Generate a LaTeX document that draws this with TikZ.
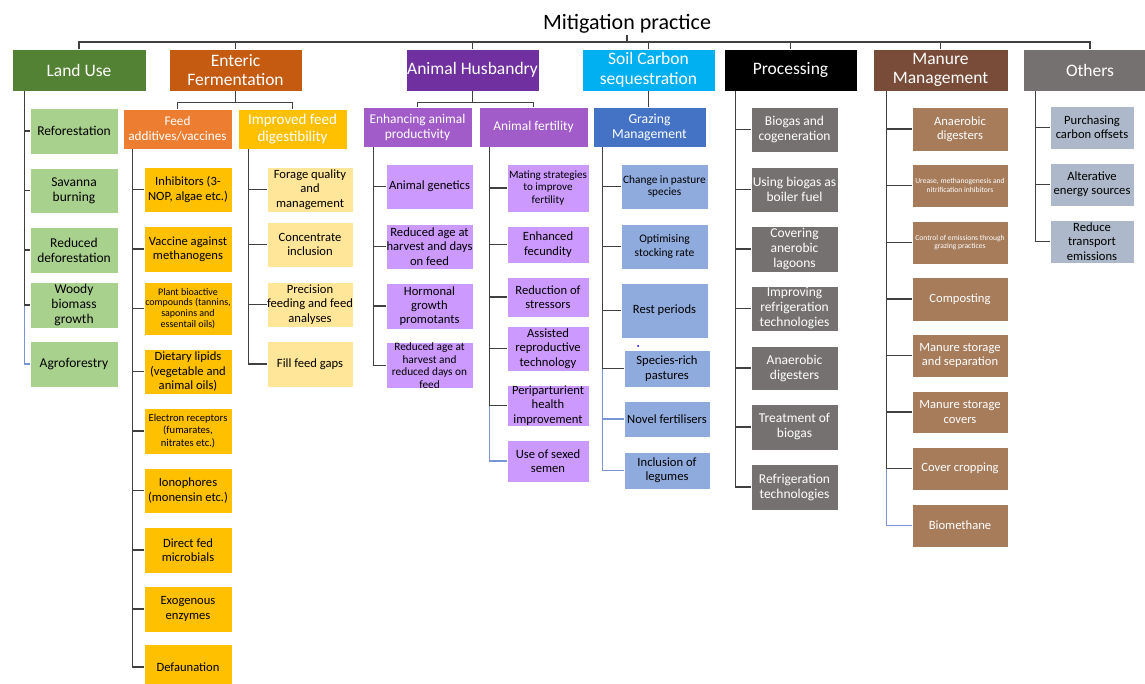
\documentclass[tikz,border=0pt]{standalone}
\usepackage{fontspec}
\setmainfont{Carlito}
\usetikzlibrary{calc}
\definecolor{cLU}{HTML}{548235}
\definecolor{cEF}{HTML}{C55A11}
\definecolor{cAH}{HTML}{7030A0}
\definecolor{cSC}{HTML}{00B0F0}
\definecolor{cMM}{RGB}{120,76,56}
\definecolor{cOT}{HTML}{767171}
\definecolor{cFA}{HTML}{ED7D31}
\definecolor{cIF}{HTML}{FFC000}
\definecolor{cAP}{RGB}{161,92,201}
\definecolor{cGM}{HTML}{4472C4}
\definecolor{iLU}{HTML}{A9D18E}
\definecolor{iFA}{HTML}{FFC000}
\definecolor{iIF}{HTML}{FFE699}
\definecolor{iAP}{RGB}{204,153,255}
\definecolor{iGM}{HTML}{8FAADC}
\definecolor{iPR}{HTML}{767171}
\definecolor{iMM}{RGB}{166,124,91}
\definecolor{iOT}{HTML}{ADB9CA}
\definecolor{lineblue}{RGB}{120,150,215}
\newcommand\mybox[7]{\node[#2, minimum width={#5-#3}, minimum height={#6-#4}] (#1) at ({(#3+#5)/2},{(#4+#6)/2}) {#7};}
\begin{document}
\begin{tikzpicture}[x=1pt,y=-1pt,
  base/.style={rectangle, draw=white, line width=0.6pt, inner sep=0pt, align=center, text=black},
  top/.style={base, text=white, font=\fontsize{17.5}{19.5}\selectfont},
  mid/.style={base, text=white, font=\fontsize{13.4}{15}\selectfont},
  itm/.style={base, font=\fontsize{12.6}{14.3}\selectfont},
  itmL/.style={base, font=\fontsize{13.5}{15}\selectfont},
  conn/.style={draw=black!75, line width=1.1pt},
  bconn/.style={draw=lineblue, line width=1.1pt}]
\useasboundingbox (0,0) rectangle (1145,684);
\clip (0,0) rectangle (1145,684);
\fill[white] (0,0) rectangle (1145,684);

% title
\node[font=\fontsize{22}{26}\selectfont, anchor=base, inner sep=1pt] (title) at (627,30) {Mitigation practice};

% top level
\mybox{lu}{top, fill=cLU}{12}{49}{146}{91}{Land Use}
\mybox{ef}{top, fill=cEF}{169}{49}{302}{91}{Enteric\\Fermentation}
\mybox{ah}{top, fill=cAH}{406}{49}{539}{91}{Animal Husbandry}
\mybox{sc}{top, fill=cSC}{582}{49}{715}{91}{Soil Carbon\\sequestration}
\mybox{pr}{top, fill=black}{724}{49}{857}{91}{Processing}
\mybox{mm}{top, fill=cMM}{873}{49}{1008}{91}{Manure\\Management}
\mybox{ot}{top, fill=cOT}{1023}{49}{1157}{91}{Others}

% second level
\mybox{fa}{mid, fill=cFA, font=\fontsize{13.2}{15}\selectfont}{123}{109}{232}{149}{Feed\\additives/vaccines}
\mybox{ifd}{mid, fill=cIF, font=\fontsize{15}{16.5}\selectfont}{238}{109}{347}{149}{Improved feed\\digestibility}
\mybox{eap}{mid, fill=cAP}{363}{107}{472}{147}{Enhancing animal\\productivity}
\mybox{afe}{mid, fill=cAP}{479}{107}{588}{147}{Animal fertility}
\mybox{gm}{mid, fill=cGM, font=\fontsize{13.7}{15}\selectfont}{593}{107}{706}{147}{Grazing\\Management}

% Land use items
\mybox{lu1}{itmL, fill=iLU}{30}{108}{118}{154}{Reforestation}
\mybox{lu2}{itmL, fill=iLU}{30}{168}{118}{213}{Savanna\\burning}
\mybox{lu3}{itmL, fill=iLU}{30}{227}{118}{273}{Reduced\\deforestation}
\mybox{lu4}{itmL, fill=iLU}{30}{282}{118}{328}{Woody\\biomass\\growth}
\mybox{lu5}{itmL, fill=iLU}{30}{341}{118}{387}{Agroforestry}

% Feed additives items
\mybox{fa1}{itm, fill=iFA}{144}{167}{232}{212}{Inhibitors (3-\\NOP, algae etc.)}
\mybox{fa2}{itm, fill=iFA}{144}{226}{232}{272}{Vaccine against\\methanogens}
\mybox{fa3}{itm, fill=iFA, font=\fontsize{10}{10.8}\selectfont}{144}{282}{232}{335}{Plant bioactive\\compounds (tannins,\\saponins and\\essentail oils)}
\mybox{fa4}{itm, fill=iFA}{144}{349}{232}{394}{Dietary lipids\\(vegetable and\\animal oils)}
\mybox{fa5}{itm, fill=iFA, font=\fontsize{10.6}{12.3}\selectfont}{144}{408}{232}{454}{Electron receptors\\(fumarates,\\nitrates etc.)}
\mybox{fa6}{itm, fill=iFA}{144}{468}{232}{513}{Ionophores\\(monensin etc.)}
\mybox{fa7}{itm, fill=iFA}{144}{527}{232}{573}{Direct fed\\microbials}
\mybox{fa8}{itm, fill=iFA}{144}{586}{232}{632}{Exogenous\\enzymes}
\mybox{fa9}{itm, fill=iFA}{144}{644}{232}{690}{Defaunation}

% Improved feed items
\mybox{if1}{itm, fill=iIF}{267}{167}{353}{212}{Forage quality\\and\\management}
\mybox{if2}{itm, fill=iIF}{267}{222}{353}{267}{Concentrate\\inclusion}
\mybox{if3}{itm, fill=iIF}{267}{282}{353}{327}{Precision\\feeding and feed\\analyses}
\mybox{if4}{itm, fill=iIF}{267}{341}{353}{387}{Fill feed gaps}

% Enhancing items
\mybox{ep1}{itm, fill=iAP}{386}{164}{473}{209}{Animal genetics}
\mybox{ep2}{itm, fill=iAP}{386}{224}{473}{269}{Reduced age at\\harvest and days\\on feed}
\mybox{ep3}{itm, fill=iAP}{386}{283}{473}{329}{Hormonal\\growth\\promotants}
\mybox{ep4}{itm, fill=iAP, font=\fontsize{11.3}{12.6}\selectfont}{386}{343}{473}{388}{Reduced age at\\harvest and\\reduced days on\\feed}

% Animal fertility items
\mybox{af1}{itm, fill=iAP, font=\fontsize{11.1}{12.3}\selectfont}{507}{164}{589}{212}{Mating strategies\\to improve\\fertility}
\mybox{af2}{itm, fill=iAP}{507}{226}{589}{263}{Enhanced\\fecundity}
\mybox{af3}{itm, fill=iAP}{507}{277}{589}{317}{Reduction of\\stressors}
\mybox{af4}{itm, fill=iAP}{507}{326}{589}{371}{Assisted\\reproductive\\technology}
\mybox{af5}{itm, fill=iAP}{507}{385}{589}{426}{Periparturient\\health\\improvement}
\mybox{af6}{itm, fill=iAP}{507}{440}{589}{482}{Use of sexed\\semen}

% Grazing items
\mybox{gm1}{itm, fill=iGM, font=\fontsize{11.3}{12.7}\selectfont}{621}{164}{708}{209}{Change in pasture\\species}
\mybox{gm2}{itm, fill=iGM, font=\fontsize{11.5}{13.3}\selectfont}{621}{224}{708}{269}{Optimising\\stocking rate}
\mybox{gm3}{itm, fill=iGM}{621}{283}{708}{338}{Rest periods}
\mybox{gm4}{itm, fill=iGM}{624}{350}{710}{387}{Species-rich\\pastures}
\mybox{gm5}{itm, fill=iGM}{624}{401}{710}{437}{Novel fertilisers}
\mybox{gm6}{itm, fill=iGM}{624}{452}{710}{489}{Inclusion of\\legumes}
\fill[blue] (638,346) circle (1);

% Processing items
\mybox{pr1}{itmL, fill=iPR, text=white}{751}{107}{838}{152}{Biogas and\\cogeneration}
\mybox{pr2}{itmL, fill=iPR, text=white}{751}{167}{838}{212}{Using biogas as\\boiler fuel}
\mybox{pr3}{itmL, fill=iPR, text=white}{751}{226}{838}{272}{Covering\\anerobic\\lagoons}
\mybox{pr4}{itmL, fill=iPR, text=white}{751}{286}{838}{331}{Improving\\refrigeration\\technologies}
\mybox{pr5}{itmL, fill=iPR, text=white}{751}{346}{838}{390}{Anaerobic\\digesters}
\mybox{pr6}{itmL, fill=iPR, text=white}{751}{404}{838}{450}{Treatment of\\biogas}
\mybox{pr7}{itmL, fill=iPR, text=white}{751}{464}{838}{510}{Refrigeration\\technologies}

% Manure items
\mybox{mm1}{itm, fill=iMM, text=white}{912}{107}{1008}{151}{Anaerobic\\digesters}
\mybox{mm2}{itm, fill=iMM, text=white, font=\fontsize{7.6}{8.7}\selectfont}{912}{164}{1008}{207}{Urease, methanogenesis and\\nitrification inhibitors}
\mybox{mm3}{itm, fill=iMM, text=white, font=\fontsize{7.6}{8.7}\selectfont}{912}{221}{1008}{264}{Control of emissions through\\grazing practices}
\mybox{mm4}{itm, fill=iMM, text=white}{912}{277}{1008}{321}{Composting}
\mybox{mm5}{itm, fill=iMM, text=white}{912}{334}{1008}{377}{Manure storage\\and separation}
\mybox{mm6}{itm, fill=iMM, text=white}{912}{391}{1008}{433}{Manure storage\\covers}
\mybox{mm7}{itm, fill=iMM, text=white}{912}{447}{1008}{490}{Cover cropping}
\mybox{mm8}{itm, fill=iMM, text=white}{912}{504}{1008}{547}{Biomethane}

% Others items
\mybox{ot1}{itm, fill=iOT}{1050}{106}{1134}{149}{Purchasing\\carbon offsets}
\mybox{ot2}{itm, fill=iOT}{1050}{163}{1134}{206}{Alterative\\energy sources}
\mybox{ot3}{itm, fill=iOT}{1050}{220}{1134}{263}{Reduce\\transport\\emissions}

% ---- connectors ----
\coordinate (bus) at (0,42);
\draw[conn] (lu.north) |- (bus -| ot.north) -- (ot.north);
\foreach \n in {ef,ah,sc,pr,mm} \draw[conn] (\n.north) -- (\n.north |- bus);
\draw[conn] (title.south) -- (title.south |- bus);

\coordinate (efb) at ($(ef.south)+(0,11)$);
\draw[conn] (ef.south) -- (efb) -| (fa.north);
\draw[conn] (efb) -| (ifd.north);
\coordinate (ahb) at ($(ah.south)+(0,11)$);
\draw[conn] (ah.south) -- (ahb) -| (eap.north);
\draw[conn] (ahb) -| (afe.north);
\draw[conn] (sc.south) -- (sc.south |- gm.north);

% spines
\draw[bconn] ($(lu.south west)+(13,0)$) |- (lu5.west);
\foreach \c in {lu1,lu2,lu3,lu4} \draw[conn] ($(lu.south west)+(13,0)$) |- (\c.west);
\foreach \c in {fa1,fa2,fa3,fa4,fa5,fa6,fa7,fa8,fa9} \draw[conn] ($(fa.south west)+(10,0)$) |- (\c.west);
\foreach \c in {if1,if2,if3,if4} \draw[conn] ($(ifd.south west)+(11,0)$) |- (\c.west);
\foreach \c in {ep1,ep2,ep3,ep4} \draw[conn] ($(eap.south west)+(11,0)$) |- (\c.west);
\draw[bconn] ($(afe.south west)+(11,0)$) |- (af6.west);
\foreach \c in {af1,af2,af3,af4,af5} \draw[conn] ($(afe.south west)+(11,0)$) |- (\c.west);
\foreach \c in {gm5,gm6} \draw[bconn] ($(gm.south west)+(10,0)$) |- (\c.west);
\foreach \c in {gm1,gm2,gm3,gm4} \draw[conn] ($(gm.south west)+(10,0)$) |- (\c.west);
\foreach \c in {pr1,pr2,pr3,pr4,pr5,pr6,pr7} \draw[conn] ($(pr.south west)+(12,0)$) |- (\c.west);
\draw[bconn] ($(mm.south west)+(14,0)$) |- (mm8.west);
\foreach \c in {mm1,mm2,mm3,mm4,mm5,mm6,mm7} \draw[conn] ($(mm.south west)+(14,0)$) |- (\c.west);
\foreach \c in {ot1,ot2,ot3} \draw[conn] ($(ot.south west)+(13,0)$) |- (\c.west);
\end{tikzpicture}
\end{document}
